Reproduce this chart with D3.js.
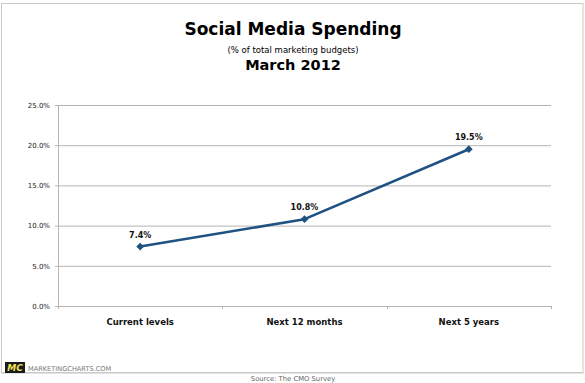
<!DOCTYPE html>
<html>
<head>
<meta charset="utf-8">
<script src="https://cdn.jsdelivr.net/npm/d3@7"></script>
<style>
	body { margin:0; background:#fff; }
	svg { display:block; font-family:"DejaVu Sans", Verdana, sans-serif; }
</style>
</head>
<body>
<svg id="chart" width="585" height="383"></svg>
<script>
(function() {

	// DATA
	var categories = ['Current levels', 'Next 12 months', 'Next 5 years']
	var spending = [7.4, 10.8, 19.5]
	var yTicks = [0, 5, 10, 15, 20, 25]
	var yTickLabels = ['0.0%', '5.0%', '10.0%', '15.0%', '20.0%', '25.0%']
	var pointLabels = ['7.4%', '10.8%', '19.5%']

	// VARS
	var lineColor = '#1f5283'
	var gridColor = '#b4b4b4'
	var plot = { left:58, right:551, top:105, bottom:306 }

	var svg = d3.select('#chart')

	// frame
	svg.append('rect')
		.attr('x', 1.5)
		.attr('y', 3.5)
		.attr('width', 581.5)
		.attr('height', 369)
		.attr('fill', '#fff')
		.attr('stroke', '#c9c9c9')
		.attr('stroke-width', 1)

	svg.append('line')
		.attr('x1', 1).attr('x2', 584)
		.attr('y1', 373.5).attr('y2', 373.5)
		.attr('stroke', '#e2e2e2')

	// titles
	svg.append('text')
		.attr('x', 293).attr('y', 35)
		.attr('text-anchor', 'middle')
		.style('font-size', '17px').style('font-weight', 'bold')
		.text('Social Media Spending')

	svg.append('text')
		.attr('x', 293).attr('y', 52.5)
		.attr('text-anchor', 'middle')
		.style('font-size', '8.5px')
		.text('(% of total marketing budgets)')

	svg.append('text')
		.attr('x', 293).attr('y', 70)
		.attr('text-anchor', 'middle')
		.style('font-size', '14.5px').style('font-weight', 'bold')
		.text('March 2012')

	// SCALES
	var x = d3.scaleBand()
		.domain(categories)
		.range([plot.left, plot.right])

	var y = d3.scaleLinear()
		.domain([0, 25])
		.range([plot.bottom, plot.top])

	var g = svg.append('g')

	// grid + y axis
	var axisY = d3.axisLeft(y)
		.tickValues(yTicks)
		.tickFormat(function(d, i) { return yTickLabels[i]; })
		.tickSizeInner(-(plot.right - plot.left))
		.tickSizeOuter(0)
		.tickPadding(8)

	var gy = g.append('g')
		.attr('transform', 'translate(' + plot.left + ',0)')
		.call(axisY)

	gy.select('.domain').attr('stroke', gridColor)
	gy.selectAll('.tick line').attr('stroke', gridColor)
	gy.selectAll('.tick').append('line')
		.attr('x1', -3).attr('x2', 0)
		.attr('stroke', gridColor)
	gy.selectAll('.tick text')
		.attr('fill', '#222')
		.style('font-size', '7px')
		.style('font-family', '"DejaVu Sans", Verdana, sans-serif')

	// x axis
	var axisX = d3.axisBottom(x)
		.tickSize(0)
		.tickPadding(13)

	var gx = g.append('g')
		.attr('transform', 'translate(0,' + plot.bottom + ')')
		.call(axisX)

	gx.select('.domain').remove()
	gx.selectAll('.tick text')
		.attr('fill', '#111')
		.style('font-size', '8.5px')
		.style('font-weight', 'bold')
		.style('font-family', '"DejaVu Sans", Verdana, sans-serif')

	var bounds = categories.map(function(c) { return x(c); }).concat([plot.right])
	gx.selectAll('.sep')
		.data(bounds)
		.enter().append('line')
		.attr('class', 'sep')
		.attr('x1', function(d) { return Math.round(d) + 0.5; })
		.attr('x2', function(d) { return Math.round(d) + 0.5; })
		.attr('y1', 0).attr('y2', 3)
		.attr('stroke', gridColor)

	// LINE
	var line = d3.line()
		.x(function(d, i) { return x(categories[i]) + x.bandwidth() / 2; })
		.y(function(d) { return y(d); })

	g.append('path')
		.datum(spending)
		.attr('d', line)
		.attr('fill', 'none')
		.attr('stroke', lineColor)
		.attr('stroke-width', 2.6)
		.attr('stroke-linejoin', 'round')

	var marker = d3.symbol().type(d3.symbolSquare).size(30)

	g.selectAll('.point')
		.data(spending)
		.enter().append('path')
		.attr('class', 'point')
		.attr('d', marker)
		.attr('fill', lineColor)
		.attr('transform', function(d, i) {
			return 'translate(' + (x(categories[i]) + x.bandwidth() / 2) + ',' + y(d) + ')rotate(45)'
		})

	g.selectAll('.point-label')
		.data(spending)
		.enter().append('text')
		.attr('class', 'point-label')
		.attr('x', function(d, i) { return x(categories[i]) + x.bandwidth() / 2; })
		.attr('y', function(d) { return y(d) - 9; })
		.attr('text-anchor', 'middle')
		.style('font-size', '8px')
		.style('font-weight', 'bold')
		.attr('fill', '#111')
		.text(function(d, i) { return pointLabels[i]; })

	// FOOTER
	svg.append('rect')
		.attr('x', 5).attr('y', 362)
		.attr('width', 20).attr('height', 11)
		.attr('fill', '#1a1a1a')

	svg.append('text')
		.attr('x', 15).attr('y', 371)
		.attr('text-anchor', 'middle')
		.style('font-size', '9px').style('font-weight', 'bold').style('font-style', 'italic')
		.attr('fill', '#f2e35a')
		.text('MC')

	svg.append('text')
		.attr('x', 28).attr('y', 370.5)
		.style('font-size', '6.6px')
		.attr('fill', '#777')
		.text('MARKETINGCHARTS.COM')

	svg.append('text')
		.attr('x', 293).attr('y', 381)
		.attr('text-anchor', 'middle')
		.style('font-size', '6.8px')
		.attr('fill', '#666')
		.text('Source: The CMO Survey')

})()
</script>
</body>
</html>
